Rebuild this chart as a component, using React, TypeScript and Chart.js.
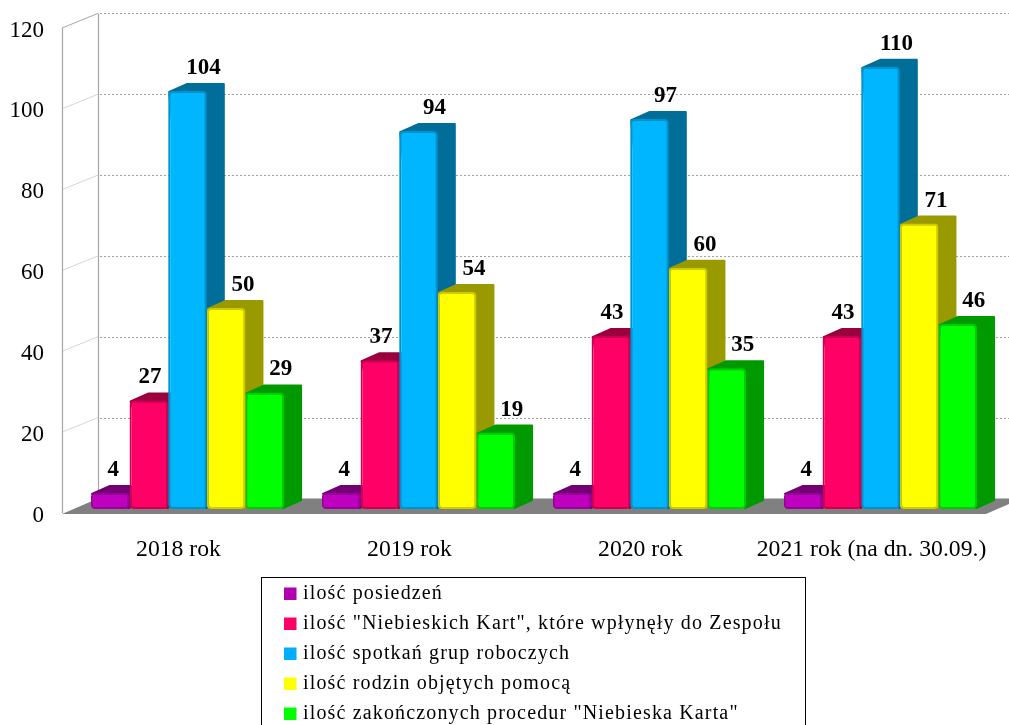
import React, { useEffect, useRef } from "react";
import { Chart, registerables } from "chart.js";

Chart.register(...registerables);

const categories = ["2018 rok", "2019 rok", "2020 rok", "2021 rok (na dn. 30.09.)"];
const seriesNames = [
  "ilość posiedzeń",
  'ilość "Niebieskich Kart", które wpłynęły do Zespołu',
  "ilość spotkań grup roboczych",
  "ilość rodzin objętych pomocą",
  'ilość zakończonych procedur "Niebieska Karta"',
];
const meetings = [4, 4, 4, 4];
const blueCards = [27, 37, 43, 43];
const workingGroups = [104, 94, 97, 110];
const families = [50, 54, 60, 71];
const closedProcedures = [29, 19, 35, 46];
const seriesValues = [meetings, blueCards, workingGroups, families, closedProcedures];

const frontColors = ["#BF00BF", "#FF0066", "#00B7FF", "#FFFF00", "#00FF00"];
const edgeColors = ["#9A009A", "#CC0052", "#0093CC", "#CCCC00", "#00CC00"];
const sideColors = ["#730073", "#99003D", "#006E99", "#999900", "#009900"];
const legendColors = ["#B000B0", "#FF0066", "#00AEFF", "#FFFF00", "#00FF00"];
const labelShiftX = [3, 1, 16, 17, 16];

const SERIF = '"Liberation Serif"';
const WALL_DX = 36;
const WALL_DY = 14.6;
const BAR_DX = 18;
const BAR_DY = 8;

const clearPadding = (s: any) => {
  s.paddingTop = 0;
  s.paddingBottom = 0;
  s.paddingLeft = 0;
  s.paddingRight = 0;
};

const scenePlugin = {
  id: "scene3d",
  beforeDatasetsDraw(chart: any) {
    const { ctx, scales } = chart;
    const y = scales.y;
    const left = 62;
    const right = 986;
    const bottom = y.getPixelForValue(0);
    const top = y.getPixelForValue(120);
    ctx.save();
    // floor
    ctx.fillStyle = "#808080";
    ctx.beginPath();
    ctx.moveTo(left, bottom + 1);
    ctx.lineTo(right, bottom + 1);
    ctx.lineTo(right + WALL_DX, bottom - WALL_DY);
    ctx.lineTo(left + WALL_DX, bottom - WALL_DY);
    ctx.closePath();
    ctx.fill();
    // grid lines
    for (const tick of y.ticks) {
      const py = y.getPixelForValue(tick.value);
      if (tick.value > 0) {
        ctx.strokeStyle = tick.value === 120 ? "#a6a6a6" : "#d4d4d4";
        ctx.lineWidth = 1;
        ctx.setLineDash([]);
        ctx.beginPath();
        ctx.moveTo(left, py);
        ctx.lineTo(left + WALL_DX, py - WALL_DY);
        ctx.stroke();
      }
      if (tick.value > 0) {
        ctx.strokeStyle = "#a0a0a0";
        ctx.setLineDash([2, 2]);
        ctx.beginPath();
        ctx.moveTo(left + WALL_DX + 2, Math.round(py - WALL_DY) + 0.5);
        ctx.lineTo(1009, Math.round(py - WALL_DY) + 0.5);
        ctx.stroke();
      }
    }
    ctx.setLineDash([]);
    ctx.strokeStyle = "#a6a6a6";
    ctx.lineWidth = 1.2;
    ctx.beginPath();
    ctx.moveTo(left + 0.5, top);
    ctx.lineTo(left + 0.5, bottom);
    ctx.moveTo(left + WALL_DX + 0.5, top - WALL_DY);
    ctx.lineTo(left + WALL_DX + 0.5, bottom - WALL_DY);
    ctx.stroke();
    ctx.restore();
  },
  beforeDatasetDraw() {
    return false;
  },
  afterDatasetsDraw(chart: any) {
    const { ctx } = chart;
    chart.data.datasets.forEach((_: any, di: number) => {
      const meta = chart.getDatasetMeta(di);
      meta.data.forEach((bar: any) => {
        const halfW = bar.width / 2;
        const l = bar.x - halfW + 1;
        const r = bar.x + halfW - 1;
        const t = bar.y + 1;
        const b = bar.base - 1;
        ctx.save();
        ctx.fillStyle = sideColors[di];
        ctx.strokeStyle = sideColors[di];
        ctx.lineWidth = 2;
        ctx.lineJoin = "round";
        ctx.beginPath();
        ctx.moveTo(l, t);
        ctx.lineTo(l + BAR_DX, t - BAR_DY);
        ctx.lineTo(r + BAR_DX, t - BAR_DY);
        ctx.lineTo(r + BAR_DX, b - BAR_DY);
        ctx.lineTo(r, b);
        ctx.closePath();
        ctx.fill();
        ctx.stroke();
        ctx.restore();
        bar.draw(ctx);
      });
    });
    // value labels
    ctx.save();
    ctx.font = `bold 23px ${SERIF}`;
    ctx.fillStyle = "#000";
    ctx.textAlign = "center";
    ctx.textBaseline = "middle";
    chart.data.datasets.forEach((ds: any, di: number) => {
      chart.getDatasetMeta(di).data.forEach((bar: any, i: number) => {
        ctx.fillText(String(ds.data[i]), bar.x + labelShiftX[di], bar.y - 23);
      });
    });
    ctx.restore();
  },
  afterDraw(chart: any) {
    const { ctx } = chart;
    ctx.save();
    ctx.strokeStyle = "#000";
    ctx.lineWidth = 1;
    ctx.strokeRect(261.5, 577.5, 544, 160);
    ctx.font = `20px ${SERIF}`;
    (ctx as any).letterSpacing = "1.15px";
    ctx.textAlign = "left";
    ctx.textBaseline = "middle";
    chart.data.datasets.forEach((ds: any, i: number) => {
      const cy = 594 + i * 30;
      ctx.fillStyle = legendColors[i];
      ctx.fillRect(284, cy - 6.5, 12.5, 12.5);
      ctx.fillStyle = "#000";
      ctx.fillText(ds.label, 303, cy);
    });
    ctx.restore();
  },
};

export default function App() {
  const ref = useRef<HTMLCanvasElement>(null);
  useEffect(() => {
    document.body.style.margin = "0";
    const chart = new Chart(ref.current!, {
      type: "bar",
      data: {
        labels: categories,
        datasets: seriesNames.map((label, i) => ({
          label,
          data: seriesValues[i],
          yAxisID: "yBar",
          backgroundColor: frontColors[i],
          borderColor: edgeColors[i],
          borderWidth: 2,
          borderRadius: 4,
          borderSkipped: false,
          barPercentage: 1,
          categoryPercentage: 0.836,
        })),
      },
      options: {
        responsive: false,
        animation: false,
        layout: { padding: { top: 28, right: 13, bottom: 0, left: 0 } },
        plugins: { legend: { display: false }, tooltip: { enabled: false } },
        scales: {
          x: {
            grid: { display: false },
            border: { display: false },
            afterFit: (s: any) => {
              s.height = 212;
              clearPadding(s);
            },
            ticks: {
              font: { family: SERIF, size: 23.7 },
              color: "#000",
              padding: 15,
              labelOffset: -9,
              maxRotation: 0,
              minRotation: 0,
              autoSkip: false,
            },
          },
          y: {
            min: 0,
            max: 120,
            grid: { display: false },
            border: { display: false },
            afterFit: (s: any) => {
              s.width = 72;
              clearPadding(s);
            },
            ticks: {
              stepSize: 20,
              font: { family: SERIF, size: 23 },
              color: "#000",
              padding: 20,
              labelOffset: 2.5,
            },
          },
          yBar: { display: false, min: -1, max: 119.65 },
        },
      },
      plugins: [scenePlugin],
    } as any);
    return () => chart.destroy();
  }, []);
  return <canvas ref={ref} width={1009} height={725} style={{ display: "block" }} />;
}
